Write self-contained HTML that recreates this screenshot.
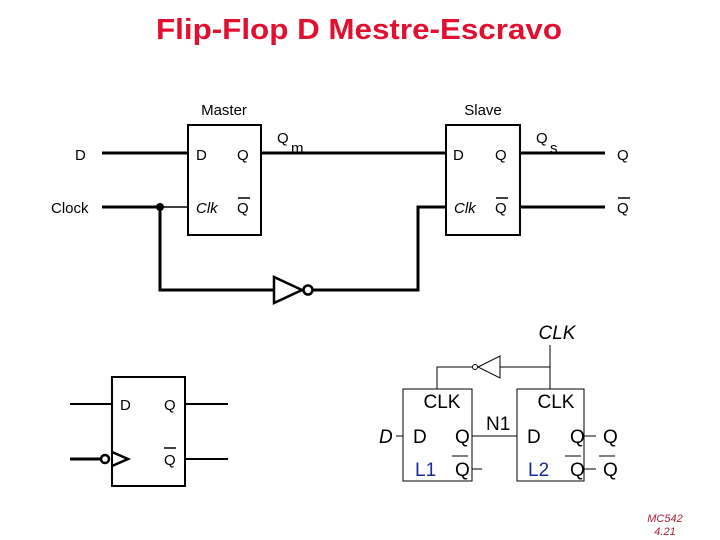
<!DOCTYPE html>
<html><head><meta charset="utf-8"><style>
body{margin:0;background:#fff;width:720px;height:540px;overflow:hidden}
svg{display:block}
text{font-family:"Liberation Sans",sans-serif}
</style></head><body>
<svg width="720" height="540" viewBox="0 0 720 540">
<text x="359" y="39" font-size="29" font-weight="bold" fill="#e2102f" text-anchor="middle" textLength="406" lengthAdjust="spacingAndGlyphs">Flip-Flop D Mestre-Escravo</text>

<g font-size="15" fill="#000">
<text x="224" y="115" text-anchor="middle">Master</text>
<text x="483" y="115" text-anchor="middle">Slave</text>
<text x="75" y="160">D</text>
<text x="51" y="213">Clock</text>
<text x="196" y="160">D</text>
<text x="237" y="160">Q</text>
<text x="196" y="213" font-style="italic">Clk</text>
<text x="237" y="213">Q</text>
<text x="453" y="160">D</text>
<text x="495" y="160">Q</text>
<text x="454" y="213" font-style="italic">Clk</text>
<text x="495" y="213">Q</text>
<text x="617" y="160">Q</text>
<text x="617" y="213">Q</text>
<text x="277" y="143">Q</text>
<text x="291" y="153">m</text>
<text x="536" y="143">Q</text>
<text x="550" y="153">s</text>
</g>
<g stroke="#000" fill="none">
<line x1="238" y1="198" x2="250" y2="198" stroke-width="1.5"/>
<line x1="496" y1="198" x2="508" y2="198" stroke-width="1.5"/>
<line x1="618" y1="198" x2="630" y2="198" stroke-width="1.5"/>
<rect x="188" y="125" width="73" height="110" stroke-width="2"/>
<rect x="446" y="125" width="74" height="110" stroke-width="2"/>
<line x1="102" y1="153" x2="188" y2="153" stroke-width="3"/>
<line x1="102" y1="207" x2="160" y2="207" stroke-width="3"/>
<line x1="160" y1="207" x2="188" y2="207" stroke-width="1.5"/>
<polyline points="160,207 160,290 274,290" stroke-width="3"/>
<line x1="261" y1="153" x2="446" y2="153" stroke-width="3"/>
<polyline points="313,290 418,290 418,207 446,207" stroke-width="3"/>
<line x1="520" y1="153" x2="605" y2="153" stroke-width="3"/>
<line x1="520" y1="207" x2="605" y2="207" stroke-width="3"/>
<polygon points="274,277 302,290 274,303" stroke-width="2.5"/>
<circle cx="308" cy="290" r="4.5" stroke-width="2.5"/>
</g>
<circle cx="160" cy="207" r="4" fill="#000"/>

<g stroke="#000" fill="none" stroke-width="2">
<rect x="112" y="377" width="73" height="109"/>
<line x1="70" y1="404" x2="112" y2="404"/>
<line x1="70" y1="459" x2="101" y2="459" stroke-width="3"/>
<circle cx="105" cy="459" r="4" stroke-width="2.5"/>
<polyline points="112,452 128,459 112,466" stroke-width="2.5"/>
<line x1="185" y1="404" x2="228" y2="404"/>
<line x1="185" y1="459" x2="228" y2="459"/>
<line x1="164" y1="448" x2="176" y2="448" stroke-width="1.5"/>
</g>
<g font-size="15"><text x="120" y="410">D</text><text x="164" y="410">Q</text><text x="164" y="465">Q</text></g>

<g stroke="#000" fill="none" stroke-width="1">
<rect x="403" y="389" width="69" height="92"/>
<rect x="517" y="389" width="67" height="92"/>
<line x1="550" y1="345" x2="550" y2="389"/>
<polyline points="550,367 500,367"/>
<polygon points="500,356 500,378 478,367"/>
<circle cx="475" cy="367" r="2.5"/>
<polyline points="472,367 437,367 437,389"/>
<line x1="396" y1="436" x2="403" y2="436"/>
<line x1="472" y1="436" x2="517" y2="436"/>
<line x1="472" y1="469" x2="482" y2="469"/>
<line x1="584" y1="436" x2="596" y2="436"/>
<line x1="584" y1="469" x2="596" y2="469"/>
<line x1="452" y1="456" x2="468" y2="456"/>
<line x1="565" y1="456" x2="581" y2="456"/>
<line x1="599" y1="456" x2="615" y2="456"/>
</g>
<g font-size="19" fill="#000">
<text x="557" y="339" font-style="italic" text-anchor="middle">CLK</text>
<text x="442" y="408" text-anchor="middle">CLK</text>
<text x="556" y="408" text-anchor="middle">CLK</text>
<text x="379" y="443" font-style="italic">D</text>
<text x="413" y="443">D</text>
<text x="455" y="443">Q</text>
<text x="486" y="430">N1</text>
<text x="527" y="443">D</text>
<text x="570" y="443">Q</text>
<text x="603" y="443">Q</text>
<text x="455" y="476">Q</text>
<text x="570" y="476">Q</text>
<text x="603" y="476">Q</text>
<text x="415" y="476" fill="#1a2a9a">L1</text>
<text x="528" y="476" fill="#1a2a9a">L2</text>
</g>
<g font-size="11" fill="#b0203a" font-style="italic">
<text x="665" y="522" text-anchor="middle">MC542</text>
<text x="665" y="535" text-anchor="middle">4.21</text>
</g>
</svg>
</body></html>
